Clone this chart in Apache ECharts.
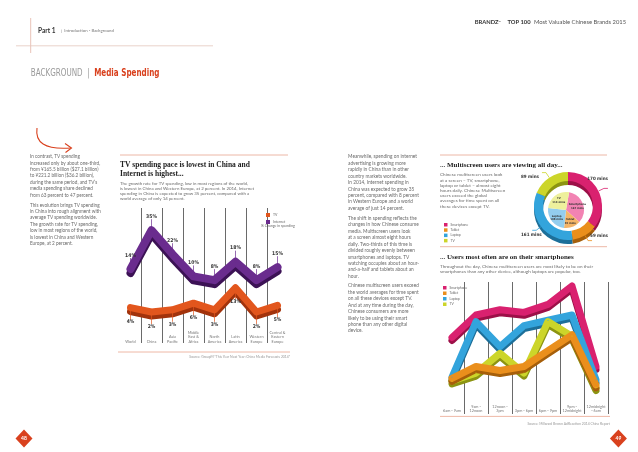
<!DOCTYPE html>
<html><head><meta charset="utf-8">
<script src="https://cdn.jsdelivr.net/npm/echarts@6/dist/echarts.min.js"></script>
<style>html,body{margin:0;padding:0;background:#fff}#c{width:638px;height:452px}</style>
</head><body><div id="c"></div><script>
// ---- data ----
const regions = ['World','China','Asia\nPacific','Middle\nEast &\nAfrica','North\nAmerica','Latin\nAmerica','Western\nEurope','Central &\nEastern\nEurope'];
const internetGrowth = [14,35,22,10,8,18,8,15];
const tvGrowth = [4,2,3,6,3,13,2,5];
const devices = ['Smartphone','Tablet','Laptop','TV'];
const chinaMinutes = [170,59,161,89];
const globalMinutes = [147,65,108,113];
const dayparts = ['6am - 9am','9am -\n12noon','12noon -\n3pm','3pm - 6pm','6pm - 9pm','9pm -\n12midnight','12midnight\n- 6am'];
const smartphoneUse = [58,75,79,77,83,97,36];
const laptopUse = [28,70,51,67,71,75,26];
const tabletUse = [27,36,33,36,48,60,22];
const tvUse = [25,31,46,31,70,59,20];

// ---- styles ----
const bodyFont = 'Lato, "Open Sans", sans-serif';
const serif = '"Liberation Serif", "DejaVu Serif", serif';
const cond = '"DejaVu Sans Condensed", sans-serif';
const red = '#d9411e';
const devColors = {Smartphone:'#d9216f', Tablet:'#ea8f1c', Laptop:'#33a4dc', TV:'#ccd52a'};
const devShadow = {Smartphone:'#9c1048', Tablet:'#a65f0a', Laptop:'#1d6f99', TV:'#8c9412'};
const devLight = {Smartphone:'#f283b3', Tablet:'#f4b468', Laptop:'#93cdee', TV:'#eef09c'};
const ringLabelShift = [-10, -5, 5, 4];

function para(x, yTop, lines, size, lh, color) {
  return {type:'text', x:x, y:yTop, silent:true, style:{text:lines.join('\n'), fontSize:size, fontFamily:bodyFont, fill:color||'#6a6a6a', lineHeight:lh, verticalAlign:'top', align:'left'}};
}
function txt(x, y, text, size, color, extra) {
  return {type:'text', x:x, y:y, silent:true, style:Object.assign({text:text, fontSize:size, fontFamily:bodyFont, fill:color||'#666', verticalAlign:'middle', align:'left'}, extra||{})};
}
function hline(x1, x2, y, color, w) {
  return {type:'line', silent:true, shape:{x1:x1, y1:y, x2:x2, y2:y}, style:{stroke:color, lineWidth:w||0.8}};
}

const chart = echarts.init(document.getElementById('c'));

function devLine(name, data) {
  return {
    name:name, type:'line', xAxisIndex:1, yAxisIndex:2, data:data,
    symbol:'circle', symbolSize:1,
    itemStyle:{color:devColors[name]},
    lineStyle:{width:7, color:devColors[name], shadowColor:devShadow[name], shadowOffsetY:3, shadowBlur:0, cap:'round', join:'round'},
    z:3
  };
}

const pieBox = {left:521, top:170, width:87, height:75};

const option = {
  backgroundColor:'#fff',
  animation:false,
  grid:[
    {left:120, top:208, width:168, height:135},
    {left:440, top:282, width:168, height:132}
  ],
  xAxis:[
    {type:'category', gridIndex:0, data:regions, boundaryGap:true,
     axisLine:{show:false}, axisTick:{show:false},
     axisLabel:{inside:true, verticalAlign:'bottom', interval:0, fontSize:3.8, lineHeight:4.6, color:'#777', fontFamily:bodyFont, margin:-1},
     splitLine:{show:true, interval:0, showMinLine:false, showMaxLine:false, lineStyle:{color:'#444', width:0.8}}},
    {type:'category', gridIndex:1, data:dayparts, boundaryGap:true,
     axisLine:{show:false}, axisTick:{show:false},
     axisLabel:{inside:true, verticalAlign:'bottom', interval:0, fontSize:3.8, lineHeight:4.6, color:'#777', fontFamily:bodyFont, margin:0.5},
     splitLine:{show:true, interval:0, showMinLine:false, showMaxLine:true, lineStyle:{color:'#444', width:0.8}}}
  ],
  yAxis:[
    {gridIndex:0, type:'value', min:-26, max:47, show:false},
    {gridIndex:0, type:'value', min:-12, max:49, show:false},
    {gridIndex:1, type:'value', min:0, max:100, show:false}
  ],
  legend:[
    {left:261, top:208, orient:'vertical', data:['TV ','Internet'], icon:'rect', itemWidth:4, itemHeight:4, itemGap:3,
     formatter:function(n){return n.trim();}, textStyle:{fontSize:3.5, color:'#666', fontFamily:bodyFont, padding:[0,0,0,-2]}},
    {left:439, top:218, orient:'vertical', data:devices, icon:'rect', itemWidth:3.5, itemHeight:3.5, itemGap:1.8,
     textStyle:{fontSize:3.3, color:'#666', fontFamily:bodyFont, padding:[0,0,0,-2]}},
    {left:438, top:281, orient:'vertical', data:devices, icon:'rect', itemWidth:3.5, itemHeight:3.5, itemGap:2,
     textStyle:{fontSize:3.3, color:'#666', fontFamily:bodyFont, padding:[0,0,0,-2]}}
  ],
  series:[
    {name:'Internet', type:'line', xAxisIndex:0, yAxisIndex:0, data:internetGrowth,
     symbol:'circle', symbolSize:2, itemStyle:{color:'#6a2c8e'},
     lineStyle:{width:8, color:'#6a2c8e', shadowColor:'#3c1255', shadowOffsetY:4, shadowBlur:0, cap:'round', join:'round'},
     label:{show:true, position:'top', distance:3, formatter:'{c}%', fontSize:5, fontWeight:'bold', fontFamily:cond, color:'#333'},
     labelLayout:{dy:-7},
     labelLine:{show:true, lineStyle:{color:'#6a2c8e', width:0.7}}},
    {name:'TV ', type:'line', xAxisIndex:0, yAxisIndex:1, data:tvGrowth,
     symbol:'circle', symbolSize:2, itemStyle:{color:'#e2561d'},
     lineStyle:{width:7, color:'#e2561d', shadowColor:'#a2330c', shadowOffsetY:4, shadowBlur:0, cap:'round', join:'round'},
     label:{show:true, position:'bottom', distance:4, formatter:'{c}%', fontSize:5, fontWeight:'bold', fontFamily:cond, color:'#333'},
     labelLayout:{dy:7},
     labelLine:{show:true, lineStyle:{color:'#e2561d', width:0.7}}},
    devLine('Smartphone', smartphoneUse),
    devLine('Laptop', laptopUse),
    devLine('TV', tvUse),
    devLine('Tablet', tabletUse),
    Object.assign({type:'pie', silent:true, center:[47,40], radius:[25,34], label:{show:false}, labelLine:{show:false},
     data:chinaMinutes.map(function(v,i){return {value:v, itemStyle:{color:devShadow[devices[i]]}};}), z:1}, pieBox),
    Object.assign({type:'pie', center:[47,36], radius:[25,34], avoidLabelOverlap:false,
     data:chinaMinutes.map(function(v,i){return {name:devices[i], value:v, itemStyle:{color:devColors[devices[i]]}};}),
     label:{formatter:'{c} mins', fontSize:4.5, fontWeight:'bold', fontFamily:cond, color:'#333', padding:[0,0,1,0],
            alignTo:'edge', edgeDistance:0, distanceToLabelLine:1},
     labelLayout:function(p){ return {dy:ringLabelShift[p.dataIndex]}; },
     labelLine:{length:6, length2:4, lineStyle:{width:0.8}}, z:2}, pieBox),
    Object.assign({type:'pie', center:[45,40], radius:[0,18], avoidLabelOverlap:false, startAngle:80,
     data:globalMinutes.map(function(v,i){return {name:devices[i], value:v, itemStyle:{color:devLight[devices[i]]}};}),
     label:{show:true, position:'inner', formatter:'{b}\n{c} mins', fontSize:2.8, lineHeight:3.4, fontWeight:'bold', fontFamily:cond, color:'#333'},
     labelLine:{show:false}, z:2}, pieBox)
  ],
  graphic:[
    {type:'line', silent:true, shape:{x1:30.7,y1:18,x2:30.7,y2:53}, style:{stroke:'#e2b3a5', lineWidth:0.8}},
    hline(16, 213, 45.8, '#e4c6bd', 0.8),
    txt(38, 30.7, 'Part 1', 6.5, '#333', {fontWeight:'bold'}),
    txt(61, 30.7, '|  Introduction - Background', 4.3, '#777'),
    {type:'text', x:626, y:22.5, silent:true, style:{
      text:'{b|BRANDZ}{s|™}  {b|TOP 100} {n|Most Valuable Chinese Brands 2015}',
      align:'right', verticalAlign:'middle',
      rich:{b:{fontSize:5.8, fontWeight:'bold', fontFamily:bodyFont, fill:'#333'}, s:{fontSize:3, fill:'#333', fontFamily:bodyFont}, n:{fontSize:5.8, fontFamily:bodyFont, fill:'#555'}}
    }},
    {type:'text', x:30.7, y:73.6, scaleX:0.8, silent:true, style:{
      text:'{g|BACKGROUND  |  }{r|Media Spending}', verticalAlign:'middle', align:'left',
      rich:{g:{fontSize:10, fontFamily:cond, fill:'#999'}, r:{fontSize:10, fontFamily:cond, fontWeight:'bold', fill:red}}
    }},
    {type:'bezierCurve', silent:true, shape:{x1:37, y1:128, cpx1:35, cpy1:142, cpx2:44, cpy2:150, x2:71, y2:148}, style:{stroke:red, lineWidth:1.1, fill:null}},
    {type:'polyline', silent:true, shape:{points:[[65,143.5],[71.5,148],[65.5,152.5]]}, style:{stroke:red, lineWidth:1.1, fill:null}},
    para(30, 153.5, ['In contrast, TV spending','increased only by about one-third,','from \u00a5165.5 billion ($27.1 billion)','to \u00a5221.2 billion ($36.2 billion),','during the same period, and TV\u2019s','media spending share declined','from 63 percent to 47 percent.'], 4.7, 6.4),
    para(30, 201.8, ['This evolution brings TV spending','in China into rough alignment with','average TV spending worldwide.','The growth rate for TV spending,','low in most regions of the world,','is lowest in China and Western','Europe, at 2 percent.'], 4.7, 6.4),
    hline(120, 288, 155, '#e7a48f', 0.8),
    {type:'text', x:120, y:161, silent:true, style:{text:'TV spending pace is lowest in China and\nInternet is highest...', fontSize:7.5, lineHeight:8.4, fontWeight:'bold', fontFamily:serif, fill:'#222', verticalAlign:'top'}},
    para(120, 180.8, ['The growth rate for TV spending, low in most regions of the world,','is lowest in China and Western Europe, at 2 percent. In 2014, Internet','spending in China is expected to grow 35 percent, compared with a','world average of only 14 percent.'], 4.4, 5),
    txt(261, 225.7, '% Change in spending', 3.5, '#666'),
    hline(118, 290, 352, '#eaa690', 0.8),
    txt(290, 357, 'Source: GroupM \u201cThis Year Next Year: China Media Forecasts 2014\u201d', 3.4, '#999', {align:'right'}),
    para(348, 153.5, ['Meanwhile, spending on internet','advertising is growing more','rapidly in China than in other','country markets worldwide.','In 2014, Internet spending in','China was expected to grow 35','percent, compared with 8 percent','in Western Europe and a world','average of just 14 percent.'], 4.8, 6.45),
    para(348, 215.1, ['The shift in spending reflects the','changes in how Chinese consume','media. Multiscreen users look','at a screen almost eight hours','daily. Two-thirds of this time is','divided roughly evenly between','smartphones and laptops. TV','watching occupies about an hour-','and-a-half and tablets about an','hour.'], 4.8, 6.45),
    para(348, 282.5, ['Chinese multiscreen users exceed','the world averages for time spent','on all these devices except TV.','And at any time during the day,','Chinese consumers are more','likely to be using their smart','phone than any other digital','device.'], 4.8, 6.45),
    hline(440, 607, 155, '#e7a48f', 0.8),
    {type:'text', x:440, y:165, silent:true, style:{text:'... Multiscreen users are viewing all day...', fontSize:7, fontWeight:'bold', fontFamily:serif, fill:'#222', verticalAlign:'middle'}},
    para(440, 172.4, ['Chinese multiscreen users look','at a screen \u2013 TV, smartphone,','laptop or tablet \u2013 almost eight','hours daily. Chinese Multiscreen','users exceed the global','averages for time spent on all','these devices except TV.'], 4.6, 5.2),
    hline(440, 607, 246.7, '#e7a48f', 0.8),
    {type:'text', x:440, y:256.7, silent:true, style:{text:'... Users most often are on their smartphones', fontSize:7, fontWeight:'bold', fontFamily:serif, fill:'#222', verticalAlign:'middle'}},
    para(440, 263.3, ['Throughout the day, Chinese multiscreen users are most likely to be on their','smartphones than any other device, although laptops are popular, too.'], 4.6, 5.8),
    hline(440, 610, 416.4, '#eaa690', 0.8),
    txt(610, 423.7, 'Source: Millward Brown AdReaction 2014 China Report', 3.4, '#999', {align:'right'}),
    {type:'polygon', silent:true, shape:{points:[[24,429.5],[32.5,438.5],[24,447.5],[15.5,438.5]]}, style:{fill:red}},
    txt(24, 438.7, '48', 5, '#fff', {align:'center', fontWeight:'bold'}),
    {type:'polygon', silent:true, shape:{points:[[618.4,429.5],[626.9,438.5],[618.4,447.5],[609.9,438.5]]}, style:{fill:red}},
    txt(618.4, 438.7, '49', 5, '#fff', {align:'center', fontWeight:'bold'})
  ]
};
chart.setOption(option);
</script></body></html>
